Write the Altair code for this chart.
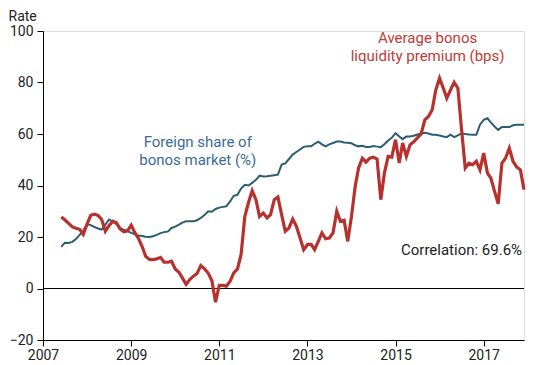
import altair as alt
import pandas as pd

# Monthly observations, Jun 2007 - Dec 2017
months = pd.date_range("2007-06-01", "2017-12-01", freq="MS").strftime("%Y-%m-%d").tolist()

foreign_share = [
    16.2, 17.8, 17.7, 18.1, 19.2, 20.8, 22.5,
    25.0, 24.6, 23.9, 23.3, 22.9, 24.8, 26.8, 26.0, 25.0, 23.5, 22.8, 22.3,
    21.6, 21.0, 20.6, 20.4, 20.1, 20.0, 20.3, 20.8, 21.5, 21.9, 22.1, 23.5,
    24.0, 24.8, 25.6, 26.1, 26.1, 26.1, 26.5, 27.4, 28.5, 30.0, 29.8, 30.9,
    31.4, 31.7, 31.9, 33.8, 36.0, 36.4, 38.8, 40.3, 40.0, 41.0, 42.2, 43.8,
    43.5, 43.6, 43.8, 44.0, 44.2, 48.1, 48.6, 50.3, 52.0, 53.0, 54.0, 55.0,
    55.2, 55.2, 56.2, 57.0, 56.0, 55.2, 56.0, 56.5, 57.1, 57.1, 56.7, 56.6,
    56.4, 55.6, 55.2, 55.4, 55.0, 55.0, 55.3, 55.1, 54.9, 56.0, 57.5, 58.5,
    60.3, 59.0, 58.0, 59.0, 59.0, 59.3, 59.8, 60.2, 60.5, 60.2, 59.7, 59.7,
    59.4, 59.0, 58.8, 59.7, 58.8, 59.5, 60.3, 60.0, 59.8, 59.7, 59.7, 63.6,
    65.5, 66.1, 64.5, 62.9, 61.6, 62.7, 62.7, 62.7, 63.4, 63.6, 63.6, 63.6,
]

liquidity_premium = [
    27.8, 26.7, 25.3, 23.9, 23.4, 23.0, 21.0,
    25.0, 28.4, 28.9, 28.4, 26.8, 22.2, 24.4, 26.1, 25.5, 23.1, 22.0, 22.4,
    24.6, 21.6, 19.6, 16.4, 12.5, 11.3, 11.2, 11.5, 12.1, 10.2, 10.2, 10.6,
    7.6, 6.3, 4.1, 1.6, 3.5, 4.8, 5.8, 8.9, 7.6, 6.0, 3.0, -5.3,
    1.2, 1.2, 0.9, 2.8, 6.1, 7.6, 13.2, 28.0, 33.5, 38.0, 34.5, 28.0,
    29.3, 27.4, 28.7, 34.5, 35.5, 28.7, 22.2, 23.5, 27.0, 24.2, 19.6, 15.1,
    17.1, 17.1, 15.1, 18.3, 21.6, 19.3, 19.6, 21.6, 30.0, 26.1, 26.5, 18.3,
    28.0, 39.7, 46.8, 50.6, 49.1, 50.6, 51.0, 50.3, 34.5, 44.8, 51.3, 51.0,
    57.8, 48.7, 56.5, 51.3, 55.8, 57.0, 58.5, 60.0, 65.5, 66.8, 69.4, 77.1,
    81.7, 77.8, 73.9, 77.1, 80.1, 77.8, 62.0, 46.8, 48.7, 48.1, 49.4, 46.1,
    52.6, 44.8, 42.9, 37.7, 32.9, 48.7, 50.6, 54.5, 49.4, 47.2, 46.1, 38.4,
]

series_names = ["Foreign share", "Liquidity premium"]
series_colors = ["#2b5e71", "#b7312e"]

rows = []
for d, f, l in zip(months, foreign_share, liquidity_premium):
    rows.append({"date": d, "value": f, "series": series_names[0]})
    rows.append({"date": d, "value": l, "series": series_names[1]})
df = pd.DataFrame(rows)

# annotations
ann_text = ["Foreign share of", "bonos market (%)",
            "Average bonos", "liquidity premium (bps)",
            "Correlation: 69.6%"]
ann_date = ["2010-07-07", "2010-07-07", "2015-09-24", "2015-09-24", "2017-11-15"]
ann_value = [57.0, 50.0, 97.3, 90.3, 15.1]
ann_color = ["#3b6b96", "#3b6b96", "#c13b36", "#c13b36", "#222222"]
ann_align = ["center", "center", "center", "center", "right"]
ann_df = pd.DataFrame({"text": ann_text, "date": ann_date, "value": ann_value,
                       "color": ann_color, "align": ann_align})

x_ticks = [alt.DateTime(year=y, month=1, date=1, utc=True) for y in [2007, 2009, 2011, 2013, 2015, 2017]]
y_ticks = [-20, 0, 20, 40, 60, 80, 100]

FONT = "Roboto"

x_enc = alt.X("date:T",
              scale=alt.Scale(type="utc",
                              domain=[alt.DateTime(year=2007, month=1, date=1, utc=True),
                                      alt.DateTime(year=2017, month=12, date=1, utc=True)]),
              axis=alt.Axis(values=x_ticks, format="%Y", title=None, grid=False,
                            tickSize=6, labelPadding=2, domainColor="#000000",
                            tickColor="#000000", labelColor="#222222",
                            labelFontSize=14, labelFont=FONT, labelFlush=False,
                            labelOverlap=False))
y_enc = alt.Y("value:Q",
              scale=alt.Scale(domain=[-20, 100], nice=False, zero=False),
              axis=alt.Axis(values=y_ticks, title="Rate", grid=False,
                            tickSize=6, labelPadding=4, domainColor="#000000",
                            tickColor="#000000", labelColor="#222222",
                            labelFontSize=14, labelFont=FONT, labelFlush=False,
                            labelOverlap=False,
                            titleAngle=0, titleAlign="left", titleBaseline="middle",
                            titleX=-35, titleY=-15, titleFont=FONT, titleFontSize=14,
                            titleFontWeight="normal", titleColor="#222222"))

zero = alt.Chart(pd.DataFrame({"v": [0]})).mark_rule(color="#000000", strokeWidth=1).encode(
    y=alt.Y("v:Q", scale=alt.Scale(domain=[-20, 100], nice=False, zero=False))
)

lines = alt.Chart(df).mark_line(interpolate="linear").encode(
    x=x_enc,
    y=y_enc,
    color=alt.Color("series:N", scale=alt.Scale(domain=series_names, range=series_colors), legend=None),
    strokeWidth=alt.StrokeWidth("series:N", scale=alt.Scale(domain=series_names, range=[2, 3.2]), legend=None),
    order=alt.Order("series:N", sort="ascending"),
)

labels_center = alt.Chart(ann_df[ann_df["align"] == "center"]).mark_text(
    font=FONT, fontSize=15, align="center", baseline="middle"
).encode(
    x="date:T", y="value:Q",
    text="text:N", color=alt.Color("color:N", scale=None),
)
labels_right = alt.Chart(ann_df[ann_df["align"] == "right"]).mark_text(
    font=FONT, fontSize=15, align="right", baseline="middle"
).encode(
    x="date:T", y="value:Q",
    text="text:N", color=alt.Color("color:N", scale=None),
)

chart = alt.layer(zero, lines, labels_center, labels_right).properties(
    width=481, height=309,
    autosize=alt.AutoSizeParams(type="none"),
    padding={"left": 35, "top": 23, "right": 10, "bottom": 22},
).configure_view(stroke=None).configure(background="white")

chart.save("out.html", embed_options={"renderer": "svg", "actions": False})
